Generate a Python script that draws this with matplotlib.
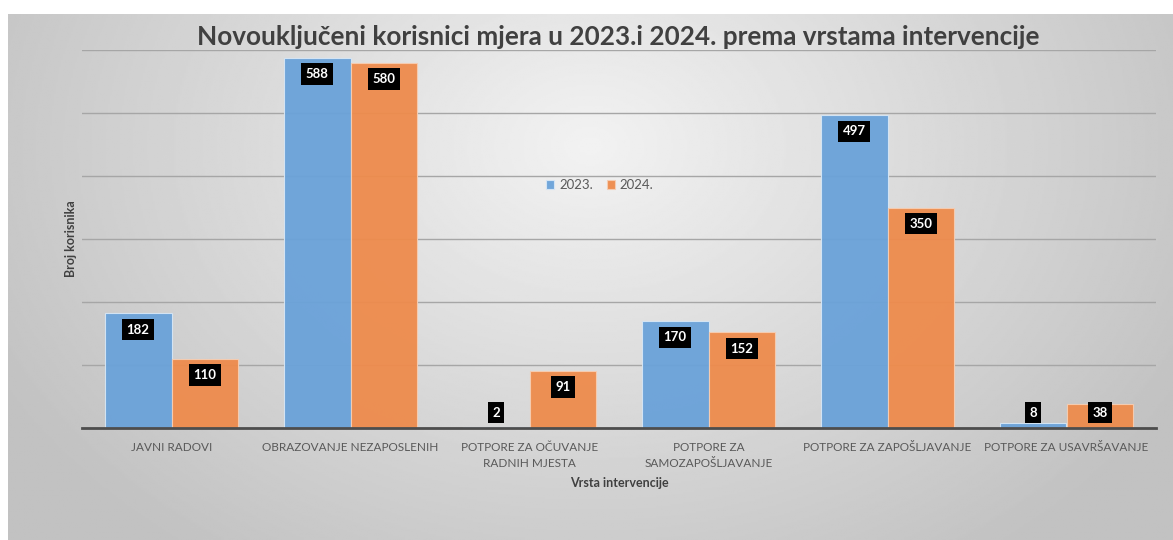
import numpy as np
import matplotlib
matplotlib.use("Agg")
import matplotlib.pyplot as plt

plt.rcParams['font.family'] = ['Lato', 'DejaVu Sans']

categories = ["JAVNI RADOVI", "OBRAZOVANJE NEZAPOSLENIH",
              "POTPORE ZA OČUVANJE\nRADNIH MJESTA", "POTPORE ZA\nSAMOZAPOŠLJAVANJE",
              "POTPORE ZA ZAPOŠLJAVANJE", "POTPORE ZA USAVRŠAVANJE"]
values_2023 = [182, 588, 2, 170, 497, 8]
values_2024 = [110, 580, 91, 152, 350, 38]
series_names = ["2023.", "2024."]

blue = "#6AA2D9"
orange = "#EE8B4C"

fig = plt.figure(figsize=(11.73, 5.40), dpi=100)
fig.patch.set_facecolor("white")

# gray radial background panel
bg = fig.add_axes([8 / 1173, 0, 1 - 8 / 1173, 1 - 14 / 540], zorder=-5)
yy, xx = np.mgrid[0:1:300j, 0:1:600j]
r = np.sqrt(((xx - 0.5) / 0.6) ** 2 + ((yy - 0.25) / 1.0) ** 2)
shade = np.clip(242 - 50 * r, 194, 245) / 255.0
bg.imshow(shade, cmap="gray", vmin=0, vmax=1, aspect="auto",
          extent=[0, 1, 0, 1], origin="upper")
bg.axis("off")

ax = fig.add_axes([82 / 1173, 1 - 428 / 540, 1074 / 1173, 378 / 540])
ax.patch.set_alpha(0)

x = np.arange(len(categories))
w = 0.374
b1 = ax.bar(x - w / 2, values_2023, w, color=blue, alpha=0.95,
            edgecolor="#D6E6F5", linewidth=0.8, label=series_names[0], zorder=3)
b2 = ax.bar(x + w / 2, values_2024, w, color=orange, alpha=0.95,
            edgecolor="#F6CDB2", linewidth=0.8, label=series_names[1], zorder=3)

for bars, vals in ((b1, values_2023), (b2, values_2024)):
    for bar, v in zip(bars, vals):
        ypos = max(v - 26, 24)
        ax.text(bar.get_x() + bar.get_width() / 2, ypos, str(v),
                ha="center", va="center", color="white", fontsize=9.5,
                fontweight="bold", zorder=5,
                bbox=dict(boxstyle="square,pad=0.35", fc="black", ec="none"))

ax.set_xlim(-0.5, len(categories) - 0.5)
ax.set_ylim(0, 600)
ax.set_yticks(np.arange(0, 601, 100))
ax.set_yticklabels([])
ax.tick_params(axis="y", length=0)
ax.grid(axis="y", color="#A6A6A6", linewidth=1.0, zorder=0)
ax.set_axisbelow(True)
for s in ("top", "right", "left"):
    ax.spines[s].set_visible(False)
ax.spines["bottom"].set_color("#4D4D4D")
ax.spines["bottom"].set_linewidth(2)
ax.spines["bottom"].set_zorder(4)

ax.set_xticks(x)
ax.set_xticklabels(categories, fontsize=8.5, color="#595959", linespacing=1.55)
ax.tick_params(axis="x", length=0, pad=10)

ax.set_xlabel("Vrsta intervencije", fontsize=9, fontweight="bold",
              color="#404040", labelpad=6)
ax.set_ylabel("Broj korisnika", fontsize=9, fontweight="bold",
              color="#404040", labelpad=0)

fig.text(0.527, 1 - 37 / 540,
         "Novouključeni korisnici mjera u 2023.i 2024. prema vrstama intervencije",
         ha="center", va="center", fontsize=18.8, fontweight="bold", color="#404040")

ax.legend(loc="center", bbox_to_anchor=((600 - 82) / 1074, (428 - 185) / 378),
          bbox_transform=ax.transAxes, ncol=2, frameon=False, fontsize=9.5,
          handlelength=0.6, handleheight=0.6, handletextpad=0.4,
          columnspacing=1.0, labelcolor="#595959")

fig.savefig("out.png", dpi=100)
